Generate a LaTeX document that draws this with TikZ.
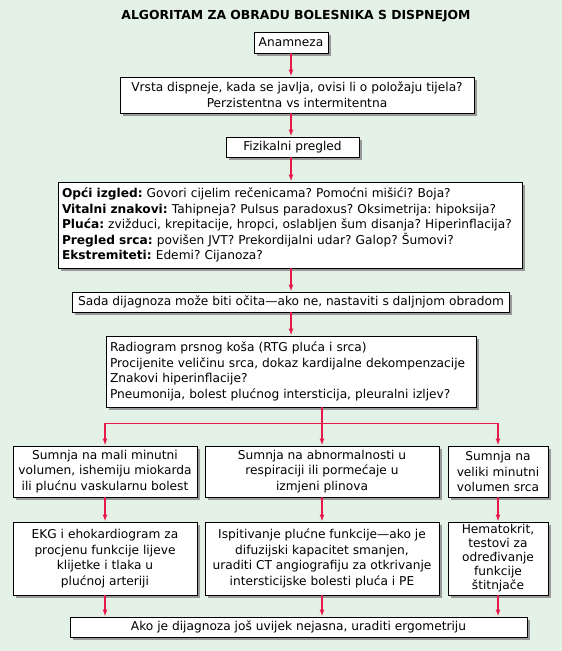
\documentclass[tikz,border=0pt]{standalone}
\usepackage{fontspec}
\setmainfont{DejaVu Sans}
\usepackage{tikz}
\usetikzlibrary{arrows.meta,positioning,calc,shadows}
\definecolor{bggreen}{RGB}{228,241,231}
\definecolor{arrowred}{RGB}{232,24,75}
\tikzstyle{box}=[draw,fill=white,line width=0.9pt,inner sep=0pt,align=center,
  drop shadow={shadow xshift=2.5pt,shadow yshift=-2.5pt,fill=black!40,opacity=1},
  font=\fontsize{12.2}{15.6}\selectfont]
\tikzstyle{leftbox}=[box,align=left,inner xsep=4pt]
\tikzstyle{flow}=[draw=arrowred,line width=1.6pt,-{Latex[length=7pt,width=5pt]}]
\tikzstyle{trunk}=[draw=arrowred,line width=1.6pt]

\begin{document}
\frenchspacing
\hyphenpenalty=10000
\begin{tikzpicture}[x=1pt,y=-1pt]
\fill[bggreen] (0,0) rectangle (562,651);
\useasboundingbox (0,0) rectangle (562,651);

\node (title) at (296,16) {\fontsize{12.4}{14}\selectfont\bfseries ALGORITAM ZA OBRADU BOLESNIKA S DISPNEJOM};

% main column
\node [box, minimum width=74pt, minimum height=21pt] (anam) at (291,42.5) {Anamneza};
\node [box, minimum width=354pt, minimum height=36pt] (vrsta) at (297,95)
  {Vrsta dispneje, kada se javlja, ovisi li o položaju tijela?\\Perzistentna vs intermitentna};
\node [box, minimum width=133pt, minimum height=20pt] (fiz) at (292.5,147) {Fizikalni pregled};
\node [leftbox, text width=456pt, minimum height=86pt] (opci) at (290,225)
  {\textbf{Opći izgled:} Govori cijelim rečenicama? Pomoćni mišići? Boja?\\
   \textbf{Vitalni znakovi:} Tahipneja? Pulsus paradoxus? Oksimetrija: hipoksija?\\
   \textbf{Pluća:} zvižduci, krepitacije, hropci, oslabljen šum disanja? Hiperinflacija?\\
   \textbf{Pregled srca:} povišen JVT? Prekordijalni udar? Galop? Šumovi?\\
   \textbf{Ekstremiteti:} Edemi? Cijanoza?};
\node [box, minimum width=437pt, minimum height=20pt] (sada) at (291,302)
  {Sada dijagnoza može biti očita—ako ne, nastaviti s daljnjom obradom};
\node [leftbox, text width=362pt, minimum height=71pt] (rtg) at (291,371.5)
  {Radiogram prsnog koša (RTG pluća i srca)\\
   Procijenite veličinu srca, dokaz kardijalne dekompenzacije\\
   Znakovi hiperinflacije?\\
   Pneumonija, bolest plućnog intersticija, pleuralni izljev?};

% three branches
\node [box, minimum width=184pt, minimum height=51pt] (sum1) at (105,471.5)
  {Sumnja na mali minutni\\volumen, ishemiju miokarda\\ili plućnu vaskularnu bolest};
\node [box, minimum width=234pt, minimum height=51pt] (sum2) at (322,471.5)
  {Sumnja na abnormalnosti u\\respiraciji ili pormećaje u\\izmjeni plinova};
\node [box, minimum width=100pt, minimum height=51pt] (sum3) at (498,471.5)
  {Sumnja na\\veliki minutni\\volumen srca};
\node [box, minimum width=184pt, minimum height=73pt] (ekg) at (105,558.5)
  {EKG i ehokardiogram za\\procjenu funkcije lijeve\\klijetke i tlaka u\\plućnoj arteriji};
\node [box, minimum width=234pt, minimum height=73pt] (isp) at (322,558.5)
  {Ispitivanje plućne funkcije—ako je\\difuzijski kapacitet smanjen,\\uraditi CT angiografiju za otkrivanje\\intersticijske bolesti pluća i PE};
\node [box, minimum width=100pt, minimum height=73pt, font=\fontsize{12.2}{14}\selectfont] (hem) at (498,558.5)
  {Hematokrit,\\testovi za\\određivanje\\funkcije\\štitnjače};
\node [box, minimum width=457pt, minimum height=20pt] (ako) at (298.5,627)
  {Ako je dijagnoza još uvijek nejasna, uraditi ergometriju};

% connectors
\draw [flow] (anam.south) -- (anam.south |- vrsta.north);
\draw [flow] (anam.south |- vrsta.south) -- (anam.south |- fiz.north);
\draw [flow] (anam.south |- fiz.south) -- (anam.south |- opci.north);
\draw [flow] (anam.south |- opci.south) -- (anam.south |- sada.north);
\draw [flow] (anam.south |- sada.south) -- (anam.south |- rtg.north);
\coordinate (split) at ($(sum2.north |- rtg.south)+(0,16)$);
\draw [trunk] (sum2.north |- rtg.south) -- (split);
\draw [flow] (split) -| (sum1.north);
\draw [flow] (split) -- (sum2.north);
\draw [flow] (split) -| (sum3.north);
\foreach \a/\b in {sum1/ekg, sum2/isp, sum3/hem}
  \draw [flow] (\a.south) -- (\b.north);
\foreach \a in {ekg, isp, hem}
  \draw [flow] (\a.south) -- (\a.south |- ako.north);
\end{tikzpicture}
\end{document}
